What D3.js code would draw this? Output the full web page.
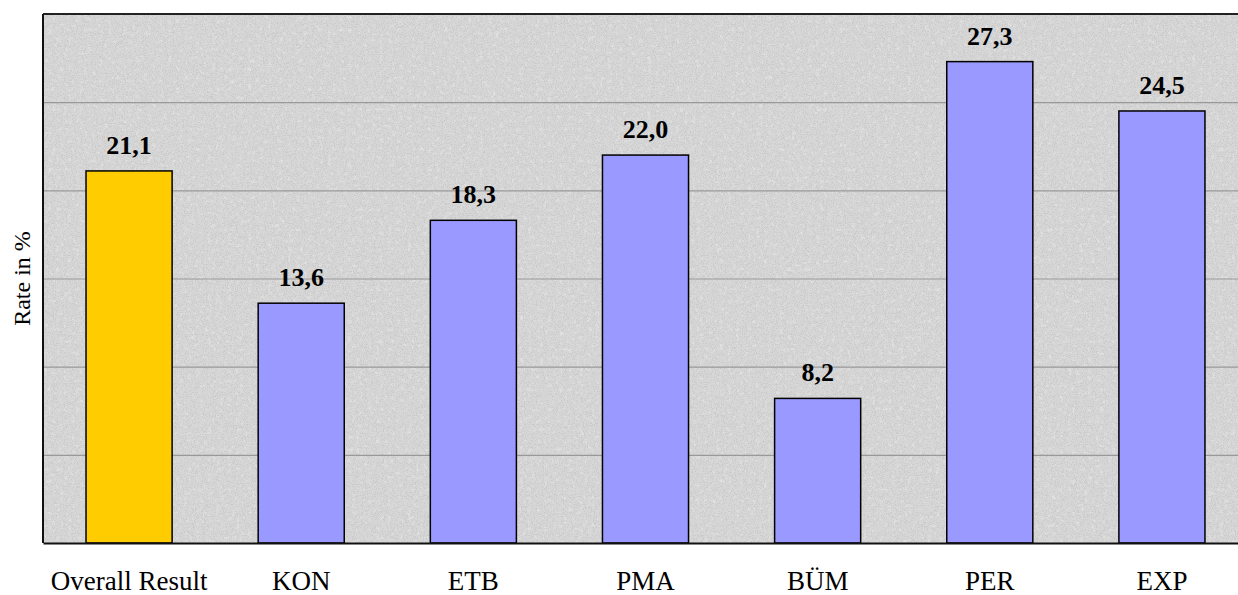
<!DOCTYPE html>
<html>
<head>
<meta charset="utf-8">
<script src="https://cdn.jsdelivr.net/npm/d3@7/dist/d3.min.js"></script>
<style>
  html, body { margin: 0; padding: 0; background: #ffffff; overflow: hidden; }
  svg { display: block; }
</style>
</head>
<body>
<svg id="chart" width="1238" height="595"></svg>
<script>
// Rates per area
const categories = ["Overall Result", "KON", "ETB", "PMA", "BÜM", "PER", "EXP"];
const rates = [21.1, 13.6, 18.3, 22.0, 8.2, 27.3, 24.5];
const gridValues = [5, 10, 15, 20, 25];
const yMax = 30;
const yTitle = "Rate in %";

const FONT = "'Liberation Serif', 'Times New Roman', 'DejaVu Serif', serif";
const plot = { left: 43, top: 14, bottom: 543, right: 1248 };

const svg = d3.select("#chart");
const defs = svg.append("defs");

// sparse dark speckles for the stone-like plot background
const grain = defs.append("filter").attr("id", "grain")
  .attr("x", 0).attr("y", 0).attr("width", "100%").attr("height", "100%");
grain.append("feTurbulence").attr("type", "fractalNoise")
  .attr("baseFrequency", "0.9").attr("numOctaves", 2).attr("seed", 7).attr("result", "noise");
grain.append("feColorMatrix").attr("in", "noise").attr("type", "matrix")
  .attr("values", "0 0 0 0 0.45  0 0 0 0 0.45  0 0 0 0 0.45  0 0 -16 0 7.2");

// soft lighter mottling
const grainLight = defs.append("filter").attr("id", "grainLight")
  .attr("x", 0).attr("y", 0).attr("width", "100%").attr("height", "100%");
grainLight.append("feTurbulence").attr("type", "fractalNoise")
  .attr("baseFrequency", "0.25").attr("numOctaves", 3).attr("seed", 3).attr("result", "noise");
grainLight.append("feColorMatrix").attr("in", "noise").attr("type", "matrix")
  .attr("values", "0 0 0 0 0.96  0 0 0 0 0.96  0 0 0 0 0.96  4 0 0 0 -2.2");

defs.append("clipPath").attr("id", "plotClip")
  .append("rect").attr("x", plot.left).attr("y", plot.top)
  .attr("width", plot.right - plot.left).attr("height", plot.bottom - plot.top);

const x = d3.scaleBand().domain(categories)
  .range([plot.left, plot.right]).paddingInner(0.5).paddingOuter(0.25);
const y = d3.scaleLinear().domain([0, yMax]).range([plot.bottom, plot.top]);

// plot background
const bg = svg.append("g").attr("clip-path", "url(#plotClip)");
const bgRect = () => bg.append("rect").attr("x", plot.left).attr("y", plot.top)
  .attr("width", plot.right - plot.left).attr("height", plot.bottom - plot.top);
bgRect().attr("fill", "#d6d6d6");
bgRect().attr("filter", "url(#grainLight)").attr("opacity", 0.3);
bgRect().attr("filter", "url(#grain)").attr("opacity", 0.3);

// gridlines
const yGrid = d3.axisLeft(y).tickValues(gridValues)
  .tickSize(-(plot.right - plot.left)).tickFormat("");
const gridG = svg.append("g").attr("transform", `translate(${plot.left},0)`).call(yGrid);
gridG.select(".domain").remove();
gridG.selectAll(".tick line").attr("stroke", "#999999").attr("stroke-width", 1.2);

// bars
svg.append("g").selectAll("rect").data(categories).join("rect")
  .attr("x", d => x(d))
  .attr("y", (d, i) => y(rates[i]))
  .attr("width", x.bandwidth())
  .attr("height", (d, i) => y(0) - y(rates[i]))
  .attr("fill", (d, i) => i === 0 ? "#ffcc00" : "#9999ff")
  .attr("stroke", "#000").attr("stroke-width", 1.5);

// value labels
svg.append("g").selectAll("text").data(categories).join("text")
  .attr("x", d => x(d) + x.bandwidth() / 2)
  .attr("y", (d, i) => y(rates[i]) - 17)
  .attr("text-anchor", "middle")
  .style("font-family", FONT)
  .style("font-size", "26px").style("font-weight", "bold")
  .attr("fill", "#000")
  .text((d, i) => rates[i].toFixed(1).replace(".", ","));

// plot frame: left and top edges
svg.append("line").attr("x1", plot.left).attr("x2", plot.left)
  .attr("y1", plot.top).attr("y2", plot.bottom)
  .attr("stroke", "#111").attr("stroke-width", 2);
svg.append("line").attr("x1", plot.left).attr("x2", plot.right)
  .attr("y1", plot.top).attr("y2", plot.top)
  .attr("stroke", "#222").attr("stroke-width", 2);

// category axis
const xAxis = d3.axisBottom(x).tickSize(0).tickPadding(0);
const xG = svg.append("g").attr("transform", `translate(0,${plot.bottom})`).call(xAxis);
xG.attr("font-family", null).attr("font-size", null);
xG.select(".domain").attr("stroke", "#111").attr("stroke-width", 2.2);
xG.selectAll(".tick text")
  .style("font-family", FONT)
  .style("font-size", "27px").attr("fill", "#000")
  .attr("dy", 0).attr("y", 47);

// y-axis title
svg.append("text")
  .attr("transform", `translate(30,${(plot.top + plot.bottom) / 2}) rotate(-90)`)
  .attr("text-anchor", "middle")
  .style("font-family", FONT)
  .style("font-size", "24px")
  .attr("fill", "#000")
  .text(yTitle);
</script>
</body>
</html>
